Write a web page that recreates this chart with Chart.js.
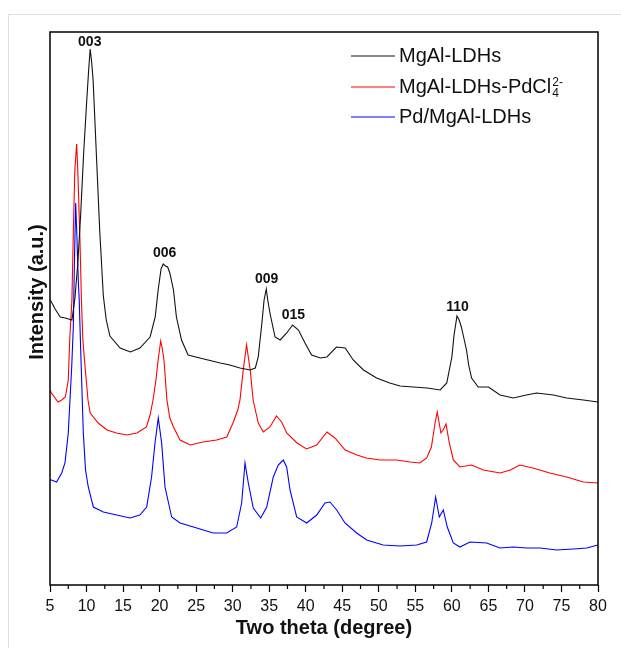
<!DOCTYPE html>
<html>
<head>
<meta charset="utf-8">
<script src="https://cdn.jsdelivr.net/npm/chart.js@4.4.0/dist/chart.umd.min.js"></script>
<style>
  html, body { margin: 0; padding: 0; background: #fff; }
</style>
</head>
<body>
<canvas id="xrd" width="621" height="648"></canvas>
<script>
// --- DATA ---
const seriesNames = ['MgAl-LDHs', 'MgAl-LDHs-PdCl', 'Pd/MgAl-LDHs'];

const ldhTheta = [5.0, 5.2, 5.7, 6.4, 7.1, 8.0, 8.4, 8.8, 9.2, 9.6, 10.0, 10.3, 10.5, 10.7, 10.9, 11.4, 11.8, 12.3, 12.7, 13.2,
  14.6, 16.0, 17.3, 18.7, 19.4, 19.8, 20.2, 20.5, 20.8, 21.1, 21.4, 21.9, 22.3, 23.0, 23.9, 25.5, 28.3, 29.6, 31.0, 32.4,
  33.1, 33.5, 34.0, 34.3, 34.6, 34.8, 35.1, 35.8, 36.5, 37.4, 38.2, 39.0, 39.9, 40.8, 42.0, 42.9, 44.2, 45.4, 46.5, 47.9,
  49.7, 51.5, 52.9, 54.7, 56.6, 58.4, 59.3, 60.0, 60.3, 60.7, 61.0, 61.3, 61.7, 62.0, 62.3, 62.7, 63.6, 65.0, 66.6, 68.4,
  70.2, 71.6, 73.9, 75.7, 78.0, 80.0];
const ldhI = [284, 282, 275, 267, 266, 264, 285, 320, 370, 430, 480, 515, 535, 522, 504, 421, 354, 288, 264, 248,
  236, 232, 236, 247, 267, 294, 315, 320, 318, 317, 311, 294, 267, 244, 229, 226, 221, 219, 216, 214,
  216, 227, 261, 284, 295, 284, 271, 247, 244, 251, 259, 254, 241, 229, 226, 227, 237, 236, 224, 214,
  206, 201, 198, 197, 196, 194, 201, 227, 249, 268, 264, 257, 244, 234, 219, 206, 197, 197, 189, 186,
  189, 191, 189, 186, 184, 182];

const pdclTheta = [5.0, 5.2, 6.1, 6.6, 7.1, 7.5, 7.7, 8.0, 8.2, 8.4, 8.65, 8.8, 9.1, 9.3, 9.5, 9.8, 10.2, 10.5, 11.6, 12.8,
  14.1, 15.5, 16.9, 18.2, 18.7, 19.1, 19.5, 19.8, 20.15, 20.4, 20.6, 21.0, 21.4, 21.9, 22.8, 24.2, 25.9, 27.8, 29.2, 30.1,
  30.7, 31.0, 31.45, 31.9, 32.4, 32.8, 33.5, 34.2, 35.1, 36.0, 36.7, 37.4, 38.8, 40.1, 41.5, 42.9, 44.0, 45.4, 47.0, 48.3,
  50.2, 52.4, 54.3, 55.6, 56.55, 57.2, 57.7, 58.0, 58.5, 58.8, 59.2, 59.65, 60.2, 61.1, 62.7, 64.3, 66.6, 68.0, 69.3, 71.1,
  73.4, 75.7, 78.0, 80.0];
const pdclI = [194, 191, 182, 184, 187, 204, 244, 284, 354, 414, 440, 414, 344, 284, 244, 217, 184, 171, 161, 154,
  151, 149, 151, 157, 169, 184, 204, 224, 243, 234, 224, 184, 166, 157, 144, 139, 142, 144, 147, 162,
  174, 184, 214, 239, 214, 184, 161, 152, 157, 168, 162, 151, 141, 135, 139, 152, 146, 134, 129, 126,
  124, 124, 122, 121, 126, 137, 161, 172, 151, 154, 160, 141, 124, 117, 119, 114, 111, 114, 119, 116,
  111, 107, 102, 101];

const pdTheta = [5.0, 5.2, 5.9, 6.6, 7.05, 7.5, 7.97, 8.19, 8.35, 8.51, 8.7, 8.87, 9.0, 9.2, 9.56, 9.86, 10.24, 10.93, 12.3, 14.13,
  15.95, 17.3, 18.23, 18.9, 19.37, 19.82, 20.28, 20.74, 21.65, 22.8, 25.08, 27.35, 29.18, 30.55, 31.23, 31.69, 32.14, 32.82, 33.84, 34.66,
  35.56, 36.24, 36.93, 37.39, 37.85, 38.76, 40.13, 41.5, 42.63, 43.32, 44.24, 45.37, 46.97, 48.34, 50.6, 52.9, 55.18, 56.55, 57.24, 57.78,
  58.28, 58.83, 59.37, 60.2, 61.1, 62.48, 64.76, 66.58, 68.4, 70.24, 72.06, 74.34, 76.6, 78.45, 80.0];
const pdI = [104, 104, 102, 111, 121, 151, 217, 257, 324, 381, 344, 304, 284, 234, 151, 114, 97, 77, 72, 69,
  66, 69, 77, 107, 141, 166, 141, 97, 67, 61, 56, 51, 51, 57, 81, 121, 101, 76, 66, 77,
  107, 119, 124, 117, 94, 67, 61, 69, 81, 82, 74, 61, 51, 44, 39, 38, 39, 42, 61, 87,
  67, 74, 57, 41, 37, 42, 41, 36, 37, 36, 36, 34, 35, 36, 39];

const peakLabels = ['003', '006', '009', '015', '110'];
const peakTheta = [10.44, 20.7, 34.66, 38.3, 60.77];
const peakI = [542, 331, 305, 269, 277];

const FONT = '"Liberation Sans", Arial, sans-serif';

function pts(xs, ys) {
  return xs.map((v, i) => ({ x: v, y: ys[i] }));
}

// --- DECORATION: frame, box, minor ticks, labels, legend ---
const decor = {
  id: 'decor',
  beforeDraw(chart) {
    const ctx = chart.ctx;
    ctx.save();
    ctx.fillStyle = '#fff';
    ctx.fillRect(0, 0, chart.width, chart.height);
    ctx.strokeStyle = '#dedede';
    ctx.lineWidth = 1;
    ctx.strokeRect(8.5, 14.5, chart.width, chart.height);
    ctx.restore();
  },
  afterDraw(chart) {
    const { ctx, chartArea: a, scales: { x, y } } = chart;
    ctx.save();

    // plot box
    ctx.strokeStyle = '#000';
    ctx.lineWidth = 1.5;
    ctx.strokeRect(a.left, a.top, a.right - a.left, a.bottom - a.top);

    // minor ticks
    ctx.lineWidth = 1.2;
    for (let v = 7.5; v < 80; v += 5) {
      const px = x.getPixelForValue(v);
      ctx.beginPath();
      ctx.moveTo(px, a.bottom);
      ctx.lineTo(px, a.bottom + 4);
      ctx.stroke();
    }

    // peak indices
    ctx.font = 'bold 14px ' + FONT;
    ctx.fillStyle = '#111';
    ctx.textAlign = 'center';
    ctx.textBaseline = 'middle';
    peakLabels.forEach((t, i) => {
      ctx.fillText(t, x.getPixelForValue(peakTheta[i]), y.getPixelForValue(peakI[i]));
    });

    // legend
    const rows = [56, 87, 117];
    ctx.textAlign = 'left';
    chart.data.datasets.forEach((ds, i) => {
      ctx.strokeStyle = ds.borderColor;
      ctx.lineWidth = 1;
      ctx.beginPath();
      ctx.moveTo(351, rows[i]);
      ctx.lineTo(395, rows[i]);
      ctx.stroke();
      ctx.fillStyle = '#111';
      ctx.font = '20px ' + FONT;
      ctx.fillText(seriesNames[i], 399, rows[i]);
      if (i === 1) {
        const w = ctx.measureText(seriesNames[i]).width;
        ctx.font = '12px ' + FONT;
        ctx.fillText('4', 400 + w, rows[i] + 7);
        ctx.fillText('2-', 400 + w, rows[i] - 4);
      }
    });

    // y title
    ctx.translate(37, 292);
    ctx.rotate(-Math.PI / 2);
    ctx.textAlign = 'center';
    ctx.font = 'bold 20px ' + FONT;
    ctx.fillStyle = '#111';
    ctx.fillText('Intensity (a.u.)', 0, 0);

    ctx.restore();
  }
};

window.onload = () => {
  const ctx = document.getElementById('xrd').getContext('2d');
  new Chart(ctx, {
    type: 'line',
    data: {
      datasets: [
        { label: seriesNames[0], data: pts(ldhTheta, ldhI), borderColor: '#111111' },
        { label: seriesNames[1], data: pts(pdclTheta, pdclI), borderColor: '#ff0000' },
        { label: seriesNames[2], data: pts(pdTheta, pdI), borderColor: '#0000ff' }
      ]
    },
    options: {
      responsive: false,
      animation: false,
      devicePixelRatio: 1,
      layout: { padding: { top: 32, right: 23, left: 0, bottom: 0 } },
      elements: {
        line: { borderWidth: 1.1, tension: 0 },
        point: { radius: 0 }
      },
      plugins: {
        legend: { display: false },
        tooltip: { enabled: false }
      },
      scales: {
        x: {
          type: 'linear',
          min: 5,
          max: 80,
          border: { display: false },
          grid: { drawOnChartArea: false, drawTicks: true, tickLength: 7, color: '#000', tickWidth: 1.2 },
          ticks: { stepSize: 5, autoSkip: false, maxRotation: 0, padding: 5, color: '#111', font: { family: FONT, size: 16 } },
          title: { display: true, text: 'Two theta (degree)', color: '#111', font: { family: FONT, size: 20, weight: 'bold' }, padding: { top: 0, bottom: 8 } },
          afterFit: s => { s.height = 63; }
        },
        y: {
          min: -1,
          max: 552,
          border: { display: false },
          grid: { display: false },
          ticks: { display: false },
          afterFit: s => { s.width = 50; }
        }
      }
    },
    plugins: [decor]
  });
};
</script>
</body>
</html>
